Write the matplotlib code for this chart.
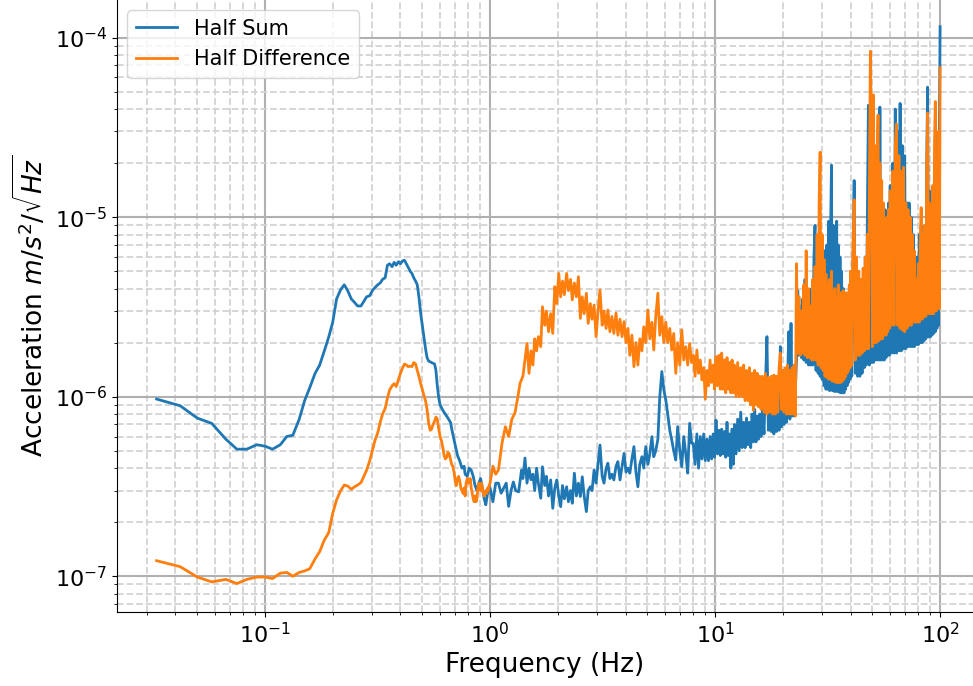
import numpy as np
import matplotlib
matplotlib.use('Agg')
import matplotlib.pyplot as plt

# Acceleration ASD, in units of 1e-6 m/s^2/sqrt(Hz)

# 0.03 - 0.2 Hz (both channels share these bins)
f_low = [0.033, 0.042, 0.05, 0.058, 0.067, 0.075, 0.083, 0.092, 0.1, 0.108,
         0.117, 0.125, 0.133, 0.142, 0.15, 0.158, 0.167, 0.175, 0.183, 0.192,
         0.2]
sum_low = [0.97, 0.89, 0.76, 0.71, 0.58, 0.51, 0.51, 0.54, 0.53, 0.51,
           0.54, 0.60, 0.61, 0.75, 0.95, 1.12, 1.35, 1.50, 1.78, 2.15,
           2.6]
diff_low = [0.122, 0.113, 0.099, 0.093, 0.096, 0.091, 0.096, 0.099, 0.099, 0.097,
            0.104, 0.105, 0.100, 0.105, 0.107, 0.110, 0.125, 0.137, 0.158, 0.175,
            0.224]

# 0.2 - 1 Hz
f_sum_mid = [0.208, 0.217, 0.225, 0.233, 0.242, 0.25, 0.258, 0.267, 0.275, 0.283,
             0.292, 0.3, 0.308, 0.317, 0.325, 0.333, 0.342, 0.35, 0.358, 0.367,
             0.375, 0.383, 0.392, 0.4, 0.408, 0.417, 0.425, 0.433, 0.442, 0.45,
             0.458, 0.467, 0.475, 0.483, 0.492, 0.5, 0.508, 0.517, 0.525, 0.533,
             0.55, 0.567, 0.575, 0.583, 0.592, 0.6, 0.617, 0.633, 0.65, 0.667,
             0.683, 0.7, 0.717, 0.733, 0.75, 0.767, 0.775, 0.792, 0.808, 0.825,
             0.842, 0.858, 0.875, 0.892, 0.908, 0.925, 0.942, 0.958, 0.975, 0.992]
sum_mid = [3.5, 3.95, 4.2, 3.9, 3.5, 3.35, 3.2, 3.2, 3.4, 3.6,
           3.65, 3.9, 4.05, 4.2, 4.3, 4.5, 4.6, 5.4, 5.5, 5.3,
           5.6, 5.4, 5.65, 5.5, 5.7, 5.75, 5.5, 5.25, 5.0, 4.85,
           4.6, 4.4, 4.2, 3.6, 2.9, 2.5, 2.15, 1.85, 1.65, 1.58,
           1.55, 1.52, 1.40, 1.15, 0.98, 0.90, 0.84, 0.80, 0.76, 0.72,
           0.62, 0.54, 0.47, 0.44, 0.40, 0.41, 0.37, 0.36, 0.40, 0.39,
           0.36, 0.32, 0.30, 0.33, 0.35, 0.31, 0.27, 0.25, 0.29, 0.32]

f_diff_mid = [0.208, 0.217, 0.225, 0.233, 0.242, 0.25, 0.258, 0.267, 0.275, 0.283,
              0.292, 0.3, 0.308, 0.317, 0.325, 0.333, 0.342, 0.35, 0.358, 0.367,
              0.375, 0.383, 0.392, 0.4, 0.408, 0.417, 0.425, 0.433, 0.442, 0.45,
              0.458, 0.467, 0.475, 0.483, 0.492, 0.5, 0.508, 0.517, 0.525, 0.533,
              0.542, 0.55, 0.558, 0.567, 0.575, 0.583, 0.592, 0.6, 0.608, 0.617,
              0.625, 0.633, 0.642, 0.65, 0.658, 0.667, 0.675, 0.683, 0.692, 0.7,
              0.708, 0.717, 0.725, 0.733, 0.742, 0.75, 0.758, 0.767, 0.775, 0.783,
              0.792, 0.8, 0.808, 0.817, 0.825, 0.833, 0.842, 0.85, 0.858, 0.867,
              0.875, 0.883, 0.892, 0.9, 0.908, 0.917, 0.925, 0.933, 0.942, 0.95,
              0.958, 0.967, 0.975, 0.983, 0.992, 1.0]
diff_mid = [0.266, 0.30, 0.322, 0.318, 0.305, 0.315, 0.322, 0.332, 0.36, 0.39,
            0.44, 0.50, 0.57, 0.63, 0.72, 0.80, 0.86, 0.98, 1.09, 1.15,
            1.18, 1.14, 1.25, 1.35, 1.44, 1.52, 1.50, 1.47, 1.48, 1.47,
            1.55, 1.52, 1.40, 1.30, 1.18, 1.10, 1.02, 0.95, 0.85, 0.72,
            0.65, 0.66, 0.70, 0.73, 0.77, 0.75, 0.66, 0.60, 0.57, 0.52,
            0.47, 0.45, 0.46, 0.49, 0.48, 0.45, 0.42, 0.41, 0.38, 0.34,
            0.32, 0.35, 0.36, 0.34, 0.31, 0.30, 0.29, 0.31, 0.28, 0.33,
            0.35, 0.33, 0.34, 0.35, 0.31, 0.29, 0.27, 0.26, 0.28, 0.26,
            0.27, 0.31, 0.33, 0.32, 0.30, 0.33, 0.31, 0.29, 0.28, 0.29,
            0.30, 0.29, 0.31, 0.30, 0.32, 0.33]

# 1 - 1.4 Hz
f_sum_1hz = [1.0, 1.03, 1.06, 1.09, 1.12, 1.15, 1.18, 1.21, 1.24, 1.27,
             1.30, 1.34, 1.38]
sum_1hz = [0.31, 0.26, 0.33, 0.33, 0.29, 0.31, 0.33, 0.245, 0.30, 0.335,
           0.30, 0.295, 0.39]
f_diff_1hz = [1.03, 1.06, 1.09, 1.13, 1.17, 1.21, 1.25, 1.29, 1.33, 1.36]
diff_1hz = [0.41, 0.37, 0.39, 0.55, 0.68, 0.60, 0.75, 0.81, 1.0, 1.19]

# 1.4 - 8 Hz (shared bins)
f_band = [1.40, 1.43, 1.46, 1.49, 1.52, 1.55, 1.58, 1.61, 1.64, 1.68,
          1.71, 1.75, 1.78, 1.82, 1.86, 1.90, 1.94, 1.98, 2.02, 2.06,
          2.10, 2.14, 2.19, 2.23, 2.28, 2.32, 2.37, 2.42, 2.47, 2.52,
          2.57, 2.62, 2.68, 2.73, 2.79, 2.84, 2.90, 2.96, 3.02, 3.08,
          3.15, 3.21, 3.28, 3.34, 3.41, 3.48, 3.55, 3.63, 3.70, 3.78,
          3.86, 3.94, 4.02, 4.10, 4.18, 4.27, 4.36, 4.45, 4.54, 4.63,
          4.73, 4.82, 4.92, 5.03, 5.13, 5.24, 5.34, 5.45, 5.57, 5.68,
          5.80, 5.92, 6.04, 6.16, 6.29, 6.42, 6.55, 6.69, 6.82, 6.97,
          7.11, 7.26, 7.41, 7.56, 7.71, 7.87]
sum_band = [0.35, 0.455, 0.33, 0.40, 0.345, 0.37, 0.30, 0.40, 0.33, 0.272,
            0.407, 0.32, 0.36, 0.28, 0.344, 0.239, 0.31, 0.344, 0.28, 0.244,
            0.32, 0.27, 0.315, 0.26, 0.30, 0.255, 0.375, 0.28, 0.33, 0.278,
            0.358, 0.28, 0.229, 0.30, 0.315, 0.30, 0.391, 0.33, 0.42, 0.538,
            0.36, 0.33, 0.40, 0.426, 0.35, 0.37, 0.344, 0.41, 0.435, 0.344,
            0.41, 0.483, 0.38, 0.40, 0.375, 0.45, 0.527, 0.38, 0.315, 0.42,
            0.463, 0.40, 0.527, 0.42, 0.48, 0.599, 0.463, 0.50, 0.58, 1.0,
            1.38, 1.09, 0.96, 0.80, 0.65, 0.574, 0.50, 0.444, 0.681, 0.50,
            0.407, 0.60, 0.48, 0.375, 0.711, 0.55]
diff_band = [1.3, 1.6, 1.98, 1.35, 1.8, 1.5, 2.1, 1.8, 2.16, 1.9,
             3.17, 2.5, 3.0, 2.3, 2.9, 2.25, 4.1, 3.3, 4.86, 3.6,
             4.4, 3.7, 4.86, 3.9, 4.5, 3.46, 4.3, 3.6, 4.66, 2.73,
             3.6, 2.9, 3.77, 2.56, 3.3, 2.7, 3.24, 2.16, 3.0, 3.93,
             2.5, 3.0, 2.4, 3.04, 2.3, 2.8, 2.25, 2.92, 2.2, 2.7,
             2.16, 2.62, 2.0, 2.4, 1.7, 2.2, 1.47, 2.0, 1.5, 2.1,
             1.8, 2.45, 2.0, 3.04, 2.1, 2.6, 1.82, 2.8, 3.77, 2.2,
             2.79, 2.0, 2.6, 2.0, 2.4, 1.82, 2.25, 1.35, 2.0, 1.5,
             2.36, 1.6, 1.9, 1.5, 1.98, 1.55]

# 8 - 23 Hz (shared bins)
f_hum = [8.0, 8.15, 8.3, 8.45, 8.6, 8.75, 8.9, 9.05, 9.2, 9.35,
         9.5, 9.65, 9.8, 9.95, 10.1, 10.25, 10.4, 10.55, 10.7, 10.85,
         11.0, 11.15, 11.3, 11.45, 11.6, 11.75, 11.9, 12.05, 12.2, 12.4,
         12.6, 12.8, 13.0, 13.2, 13.4, 13.6, 13.8, 14.0, 14.2, 14.4,
         14.6, 14.8, 15.0, 15.2, 15.4, 15.6, 15.8, 16.0, 16.25, 16.5,
         16.75, 17.0, 17.25, 17.5, 17.75, 18.0, 18.25, 18.5, 18.75, 19.0,
         19.25, 19.5, 19.75, 20.0, 20.25, 20.5, 20.75, 21.0, 21.25, 21.5,
         21.75, 22.0, 22.25, 22.5, 22.75]
sum_hum = [0.55, 0.42, 0.62, 0.40, 0.60, 0.45, 0.62, 0.44, 0.58, 0.44,
           0.60, 0.45, 0.62, 0.46, 0.74, 0.48, 0.65, 0.47, 0.66, 0.48,
           0.64, 0.46, 0.72, 0.47, 0.62, 0.40, 0.66, 0.42, 0.70, 0.48,
           0.75, 0.50, 0.82, 0.52, 0.72, 0.52, 0.76, 0.54, 0.72, 0.52,
           0.80, 0.56, 0.85, 0.56, 0.78, 0.58, 0.80, 0.60, 0.88, 0.62,
           1.2, 2.16, 0.65, 0.88, 0.64, 0.85, 0.62, 0.90, 0.64, 0.88,
           0.65, 1.9, 0.68, 0.92, 0.70, 0.98, 0.72, 1.2, 2.3, 0.75,
           2.56, 0.78, 0.95, 0.78, 1.14]
diff_hum = [1.7, 1.3, 1.82, 1.35, 1.6, 1.24, 1.45, 0.97, 1.4, 1.15,
            1.6, 1.2, 1.5, 1.1, 1.67, 1.15, 1.7, 1.1, 1.75, 1.1,
            1.6, 1.05, 1.65, 1.1, 1.55, 1.05, 1.6, 1.05, 1.5, 1.0,
            1.55, 1.0, 1.45, 1.0, 1.5, 0.95, 1.4, 0.95, 1.45, 0.9,
            1.35, 0.84, 1.4, 0.9, 1.35, 0.88, 1.3, 0.85, 1.3, 0.82,
            1.35, 0.8, 1.28, 0.82, 1.3, 0.8, 1.32, 0.8, 1.3, 0.82,
            1.45, 1.75, 0.85, 1.4, 0.82, 1.45, 0.8, 1.5, 0.8, 1.4,
            0.8, 1.45, 0.8, 1.5, 0.78]

# 23 - 100 Hz (shared bins, dense line forest)
f_high = [23.0, 23.3, 23.6, 23.9, 24.2, 24.5, 24.8, 25.1, 25.4, 25.7,
          26.0, 26.3, 26.6, 26.9, 27.2, 27.5, 27.8, 28.1, 28.4, 28.7,
          29.0, 29.3, 29.6, 29.9, 30.2, 30.5, 30.8, 31.1, 31.4, 31.7,
          32.0, 32.3, 32.6, 32.9, 33.2, 33.5, 33.8, 34.1, 34.4, 34.7,
          35.0, 35.3, 35.6, 35.9, 36.2, 36.5, 36.8, 37.1, 37.4, 37.7,
          38.0, 38.3, 38.6, 38.9, 39.2, 39.5, 39.8, 40.1,
          40.5, 41.0, 41.5, 42.0, 42.5, 43.0, 43.5, 44.0, 44.5, 45.0,
          45.5, 46.0, 46.5, 47.0, 47.5, 48.0, 48.5, 49.0, 49.5, 50.0,
          50.5, 51.0, 51.5, 52.0, 52.5, 53.0, 53.5, 54.0, 54.5, 55.0,
          55.5, 56.0, 56.5, 57.0, 57.5, 58.0, 58.5, 59.0, 59.5, 60.0,
          60.8, 61.6, 62.4, 63.2, 64.0, 64.8, 65.6, 66.4, 67.2, 68.0,
          68.8, 69.6, 70.4, 71.2, 72.0, 72.8, 73.6, 74.4, 75.2, 76.0,
          76.8, 77.6, 78.4, 79.2, 80.0, 80.8, 81.6, 82.4, 83.2, 84.0,
          84.8, 85.6, 86.4, 87.2, 88.0, 88.8, 89.6, 90.4, 91.2, 92.0,
          92.8, 93.6, 94.4, 95.2, 96.0, 96.8, 97.6, 98.4, 99.2, 100.0]
sum_high = [1.6, 3.9, 1.7, 3.2, 1.65, 3.5, 1.6, 4.5, 1.55, 3.8,
            1.5, 3.5, 1.5, 4.0, 1.5, 6.0, 9.0, 1.4, 5.0, 1.35,
            4.5, 1.3, 4.2, 1.25, 5.0, 1.15, 6.5, 1.1, 7.0, 1.1,
            9.5, 1.08, 8.0, 19.5, 1.08, 9.0, 1.07, 8.0, 1.07, 9.5,
            1.07, 7.0, 1.06, 6.0, 1.05, 5.0, 1.05, 4.0, 1.05, 3.5,
            1.1, 3.2, 1.15, 3.5, 1.2, 4.0, 1.25, 4.5,
            1.3, 5.0, 16.0, 1.35, 5.0, 1.3, 4.5, 1.3, 4.0, 1.35,
            4.5, 1.45, 6.0, 1.5, 10.0, 42.0, 1.5, 25.0, 1.55, 20.0,
            1.55, 15.0, 1.6, 12.0, 1.6, 20.0, 1.6, 41.0, 1.6, 12.0,
            1.6, 10.0, 1.6, 11.0, 1.65, 9.0, 1.7, 12.0, 1.7, 15.0,
            1.75, 20.0, 1.75, 40.0, 1.75, 30.0, 1.8, 43.0, 1.8, 25.0,
            1.85, 22.0, 1.85, 12.0, 1.9, 12.0, 1.9, 10.0, 1.9, 8.0,
            1.9, 6.0, 1.95, 6.0, 1.95, 8.0, 2.0, 9.0, 2.0, 8.0,
            2.05, 9.0, 2.1, 20.0, 53.0, 2.15, 14.0, 2.15, 12.0, 2.2,
            14.0, 2.25, 15.0, 2.3, 30.0, 2.4, 25.0, 2.5, 30.0, 115.0]
diff_high = [5.5, 1.75, 3.6, 1.7, 3.0, 1.75, 4.2, 1.7, 6.5, 1.65,
             4.0, 1.65, 3.2, 1.6, 4.5, 1.6, 5.3, 1.6, 8.0, 1.5,
             12.0, 23.0, 1.45, 8.0, 1.4, 5.8, 1.3, 4.8, 1.28, 4.2,
             1.25, 4.5, 1.25, 5.0, 1.22, 3.8, 1.22, 4.0, 1.2, 3.5,
             1.2, 4.2, 1.2, 3.6, 1.2, 3.8, 1.22, 3.9, 1.25, 3.4,
             1.3, 3.8, 1.35, 3.5, 1.4, 4.2, 1.45, 5.0,
             1.5, 7.0, 12.5, 1.6, 6.0, 1.7, 5.0, 1.7, 4.5, 1.75,
             5.2, 1.8, 6.0, 1.85, 8.0, 1.85, 15.0, 84.0, 30.0, 1.9,
             48.0, 2.0, 25.0, 2.0, 22.0, 37.0, 2.05, 20.0, 2.1, 16.0,
             2.1, 12.0, 2.2, 9.0, 2.2, 10.0, 2.3, 11.0, 2.4, 14.0,
             2.5, 18.0, 2.5, 25.0, 33.0, 2.5, 22.0, 2.4, 18.0, 2.35,
             19.0, 2.3, 12.0, 2.4, 11.0, 2.5, 10.0, 2.5, 8.0, 2.6,
             6.5, 2.6, 4.5, 2.6, 5.5, 2.6, 7.0, 11.3, 2.7, 8.0,
             2.8, 9.0, 2.8, 20.0, 38.0, 2.9, 12.0, 2.9, 10.0, 2.9,
             15.0, 2.9, 25.0, 44.0, 3.0, 20.0, 3.1, 30.0, 3.1, 68.0]

freq_sum = f_low + f_sum_mid + f_sum_1hz + f_band + f_hum + f_high
acc_sum = np.array(sum_low + sum_mid + sum_1hz + sum_band + sum_hum + sum_high) * 1e-6
freq_diff = f_low + f_diff_mid + f_diff_1hz + f_band + f_hum + f_high
acc_diff = np.array(diff_low + diff_mid + diff_1hz + diff_band + diff_hum + diff_high) * 1e-6

fig = plt.figure(figsize=(9.73, 6.86), dpi=100)
ax = fig.add_axes([117 / 973, 74 / 686, 856 / 973, 612 / 686])

ax.loglog(freq_sum, acc_sum, color='#1f77b4', lw=2, label='Half Sum')
ax.loglog(freq_diff, acc_diff, color='#ff7f0e', lw=2, label='Half Difference')

ax.set_xlim(0.022, 140)
ax.set_ylim(6.32e-8, 1.62e-4)

ax.grid(True, which='major', color='#b0b0b0', lw=1.5, ls='-')
ax.grid(True, which='minor', color='#d3d3d3', lw=1.3, ls='--')
ax.set_axisbelow(True)

ax.spines['top'].set_visible(False)
ax.spines['right'].set_visible(False)

ax.tick_params(axis='both', which='major', labelsize=16)
ax.set_xlabel('Frequency (Hz)', fontsize=19)
ax.set_ylabel(r'Acceleration $m/s^2/\sqrt{Hz}$', fontsize=19)
ax.legend(loc='upper left', fontsize=15)

fig.savefig('out.png', dpi=100)
